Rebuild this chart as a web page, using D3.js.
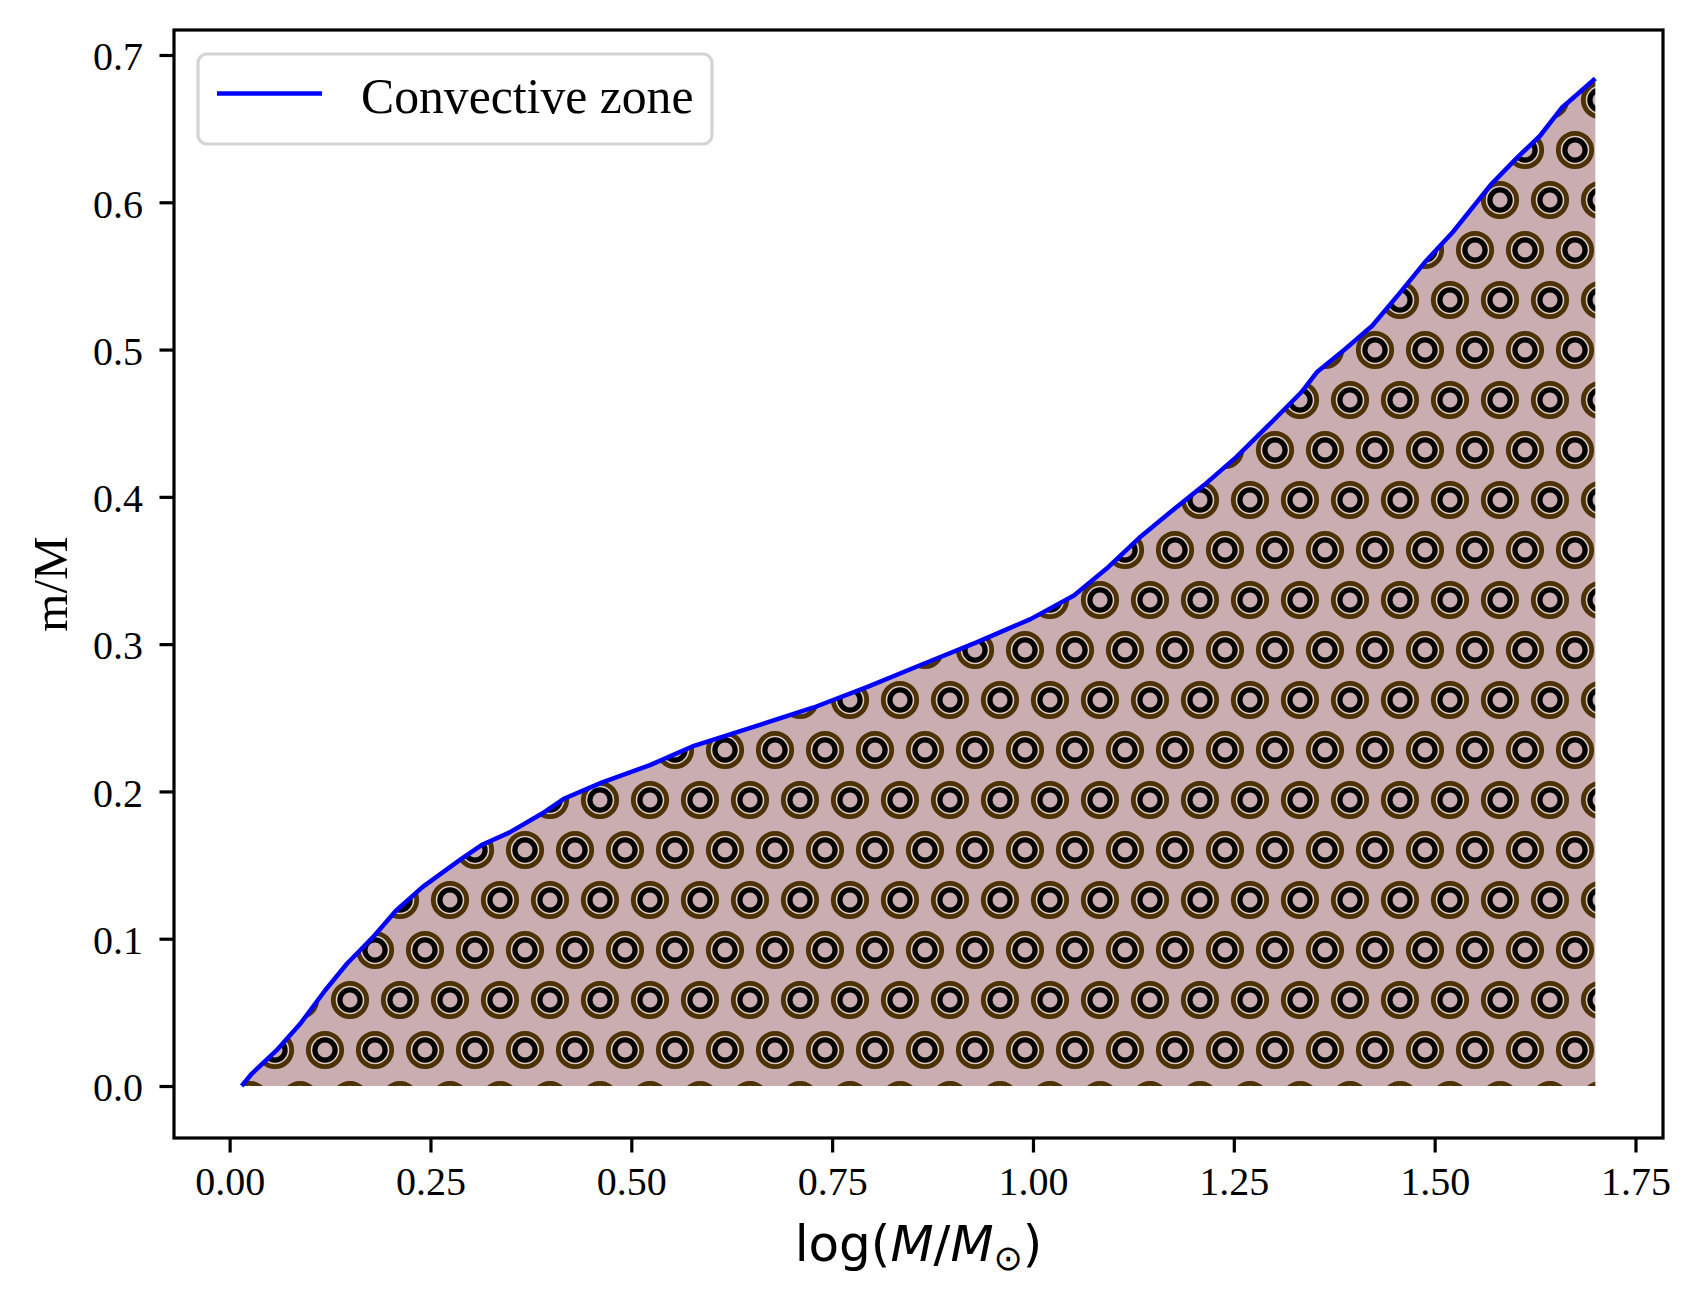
<!DOCTYPE html>
<html>
<head>
<meta charset="utf-8">
<script src="https://cdn.jsdelivr.net/npm/d3@7"></script>
<style>
  body { margin: 0; background: #fff; }
  svg { display: block; }
</style>
</head>
<body>
<svg width="1701" height="1304"></svg>
<script>
// convective zone boundary
var logMass = [0.015, 0.027, 0.058, 0.089, 0.119, 0.146, 0.180, 0.207, 0.240, 0.288, 0.315, 0.348, 0.389, 0.416, 0.463,
  0.524, 0.578, 0.659, 0.727, 0.794, 0.861, 0.929, 0.997, 1.051, 1.091, 1.132, 1.172, 1.213, 1.253, 1.294, 1.334,
  1.354, 1.388, 1.422, 1.456, 1.489, 1.523, 1.570, 1.604, 1.631, 1.658, 1.700];
var massFrac = [0.000, 0.008, 0.024, 0.043, 0.065, 0.083, 0.102, 0.119, 0.135, 0.154, 0.164, 0.172, 0.185, 0.195, 0.206,
  0.218, 0.231, 0.245, 0.257, 0.271, 0.286, 0.301, 0.317, 0.333, 0.351, 0.372, 0.390, 0.408, 0.427, 0.449, 0.471,
  0.485, 0.500, 0.516, 0.538, 0.560, 0.580, 0.612, 0.631, 0.645, 0.664, 0.684];
var xTicks = [0.00, 0.25, 0.50, 0.75, 1.00, 1.25, 1.50, 1.75];
var yTicks = [0.0, 0.1, 0.2, 0.3, 0.4, 0.5, 0.6, 0.7];

// plot frame in page pixels (window.top is reserved, so no "top" here)
var pLeft = 174, pRight = 1663, pTop = 30, pBottom = 1138;

var svg = d3.select("svg");

var x = d3.scaleLinear().domain([-0.06925, 1.78425]).range([pLeft, pRight]);
var y = d3.scaleLinear().domain([-0.0353, 0.71697]).range([pBottom, pTop]);

var pts = logMass.map(function(d, i){ return [d, massFrac[i]]; });

// hatch pattern: big brown rings with small black rings inside
var defs = svg.append("defs");
var pat = defs.append("pattern")
  .attr("id", "rings")
  .attr("patternUnits", "userSpaceOnUse")
  .attr("x", 0).attr("y", 0)
  .attr("width", 50).attr("height", 100);
pat.append("rect").attr("width", 50).attr("height", 100).style("fill", "#c9adb1");
var centers = [[0,0],[50,0],[0,100],[50,100],[25,50]];
centers.forEach(function(c){
  pat.append("circle").attr("cx", c[0]).attr("cy", c[1]).attr("r", 16.7)
    .style("fill", "none").style("stroke", "#4d3204").style("stroke-width", 4.8);
  pat.append("circle").attr("cx", c[0]).attr("cy", c[1]).attr("r", 13.2)
    .style("fill", "none").style("stroke", "#e6d6ca").style("stroke-width", 1.3);
  pat.append("circle").attr("cx", c[0]).attr("cy", c[1]).attr("r", 10.1)
    .style("fill", "none").style("stroke", "#000").style("stroke-width", 5.2);
});

var area = d3.area()
  .x(function(d){ return x(d[0]); })
  .y0(y(0))
  .y1(function(d){ return y(d[1]); });

svg.append("path")
  .datum(pts)
  .attr("d", area)
  .style("fill", "url(#rings)");

var line = d3.line()
  .x(function(d){ return x(d[0]); })
  .y(function(d){ return y(d[1]); });

svg.append("path")
  .datum(pts)
  .attr("d", line)
  .style("fill", "none")
  .style("stroke", "#0000ff")
  .style("stroke-width", 4.5)
  .style("stroke-linejoin", "round");

// axes
var xAxis = svg.append("g")
  .attr("transform", "translate(0," + pBottom + ")")
  .call(d3.axisBottom(x).tickValues(xTicks).tickFormat(d3.format(".2f")).tickSize(14.5).tickPadding(14));
var yAxis = svg.append("g")
  .attr("transform", "translate(" + pLeft + ",0)")
  .call(d3.axisLeft(y).tickValues(yTicks).tickFormat(d3.format(".1f")).tickSize(14.5).tickPadding(16.5));

[xAxis, yAxis].forEach(function(a){
  a.select(".domain").remove();
  a.selectAll(".tick line").style("stroke", "#000").style("stroke-width", 3.2);
  a.selectAll(".tick text")
    .style("font-family", "'Liberation Serif', 'Times New Roman', serif")
    .style("font-size", "40px")
    .style("fill", "#000");
});
yAxis.selectAll(".tick text").attr("dy", "0.37em");

svg.append("rect")
  .attr("x", pLeft).attr("y", pTop)
  .attr("width", pRight - pLeft).attr("height", pBottom - pTop)
  .style("fill", "none").style("stroke", "#000").style("stroke-width", 3.2);

// axis labels
svg.append("text")
  .attr("x", (pLeft + pRight) / 2).attr("y", 1261)
  .attr("text-anchor", "middle")
  .style("font-family", "'DejaVu Sans', sans-serif")
  .style("font-size", "50px")
  .html('log(<tspan font-style="italic">M</tspan>/<tspan font-style="italic">M</tspan><tspan dy="9" font-size="35px">\u2299</tspan><tspan dy="-9">)</tspan>');

svg.append("text")
  .attr("transform", "translate(67," + ((pTop + pBottom) / 2) + ") rotate(-90)")
  .attr("text-anchor", "middle")
  .style("font-family", "'Liberation Serif', 'Times New Roman', serif")
  .style("font-size", "49px")
  .text("m/M");

// legend
var leg = svg.append("g");
leg.append("rect")
  .attr("x", 198).attr("y", 54).attr("width", 514).attr("height", 90)
  .attr("rx", 9)
  .style("fill", "#fff").style("fill-opacity", 0.8)
  .style("stroke", "#d4d4d4").style("stroke-width", 3.2);
leg.append("line")
  .attr("x1", 217).attr("x2", 322).attr("y1", 93.5).attr("y2", 93.5)
  .style("stroke", "#0000ff").style("stroke-width", 4.5);
leg.append("text")
  .attr("x", 361).attr("y", 113)
  .style("font-family", "'Liberation Serif', 'Times New Roman', serif")
  .style("font-size", "49.7px")
  .text("Convective zone");
</script>
</body>
</html>
